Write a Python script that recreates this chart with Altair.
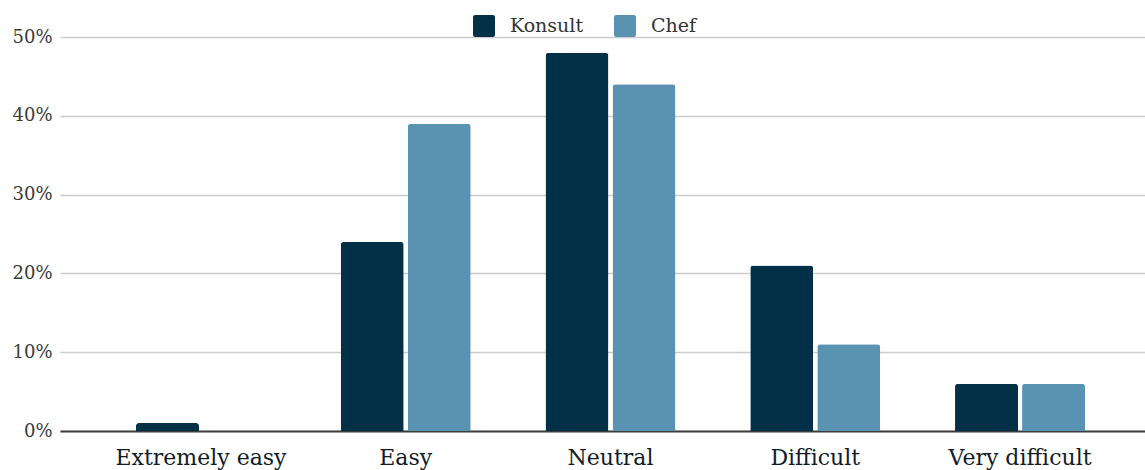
import altair as alt
import pandas as pd

# Survey answers: share of respondents per difficulty level
categories = ["Extremely easy", "Easy", "Neutral", "Difficult", "Very difficult"]
groups = ["Konsult", "Chef"]
konsult = [1, 24, 48, 21, 6]
chef = [0, 39, 44, 11, 6]
colors = ["#023047", "#5a93b1"]
y_ticks = [0, 10, 20, 30, 40, 50]

rows = []
for cat, k, c in zip(categories, konsult, chef):
    rows.append({"category": cat, "group": "Konsult", "share": k})
    rows.append({"category": cat, "group": "Chef", "share": c})
df = pd.DataFrame(rows)

FONT = "DejaVu Serif"
# rounded square for the legend swatches
ROUNDED_SQUARE = (
    "M -0.8,-1 H 0.8 Q 1,-1 1,-0.8 V 0.8 Q 1,1 0.8,1 H -0.8 "
    "Q -1,1 -1,0.8 V -0.8 Q -1,-1 -0.8,-1 Z"
)

chart = (
    alt.Chart(df)
    .mark_bar(cornerRadiusTopLeft=3, cornerRadiusTopRight=3)
    .encode(
        x=alt.X(
            "category:N",
            sort=categories,
            title=None,
            scale=alt.Scale(paddingInner=0.365, paddingOuter=0.332, align=0.559),
            axis=alt.Axis(
                labelAngle=0,
                labelFont=FONT,
                labelFontSize=22,
                labelColor="#111c27",
                labelPadding=16,
                ticks=False,
                grid=False,
                domainColor="#3d3d3d",
                domainWidth=2,
            ),
        ),
        xOffset=alt.XOffset(
            "group:N", sort=groups, scale=alt.Scale(paddingInner=0.06, paddingOuter=0)
        ),
        y=alt.Y(
            "share:Q",
            title=None,
            scale=alt.Scale(domain=[0, 50], nice=False),
            axis=alt.Axis(
                values=y_ticks,
                labelExpr="datum.value + '%'",
                labelFont=FONT,
                labelFontSize=18,
                labelColor="#3a3a3a",
                labelPadding=8,
                ticks=False,
                domain=False,
                gridColor="#cccccc",
                gridWidth=1.5,
            ),
        ),
        color=alt.Color(
            "group:N",
            sort=groups,
            scale=alt.Scale(domain=groups, range=colors),
            legend=alt.Legend(
                title=None,
                orient="none",
                direction="horizontal",
                legendX=413,
                legendY=-22,
                padding=0,
                symbolType=ROUNDED_SQUARE,
                symbolSize=484,
                symbolStrokeWidth=0,
                symbolOpacity=1,
                labelFont=FONT,
                labelFontSize=19,
                labelColor="#333333",
                labelOffset=15,
                columnPadding=30,
            ),
        ),
    )
    .properties(
        width=1085,
        height=394,
        autosize=alt.AutoSizeParams(type="none"),
        padding={"left": 60, "top": 37, "right": 0, "bottom": 39},
    )
    .configure_view(stroke=None)
)

chart.save("out.html", embed_options={"renderer": "svg", "actions": False})
